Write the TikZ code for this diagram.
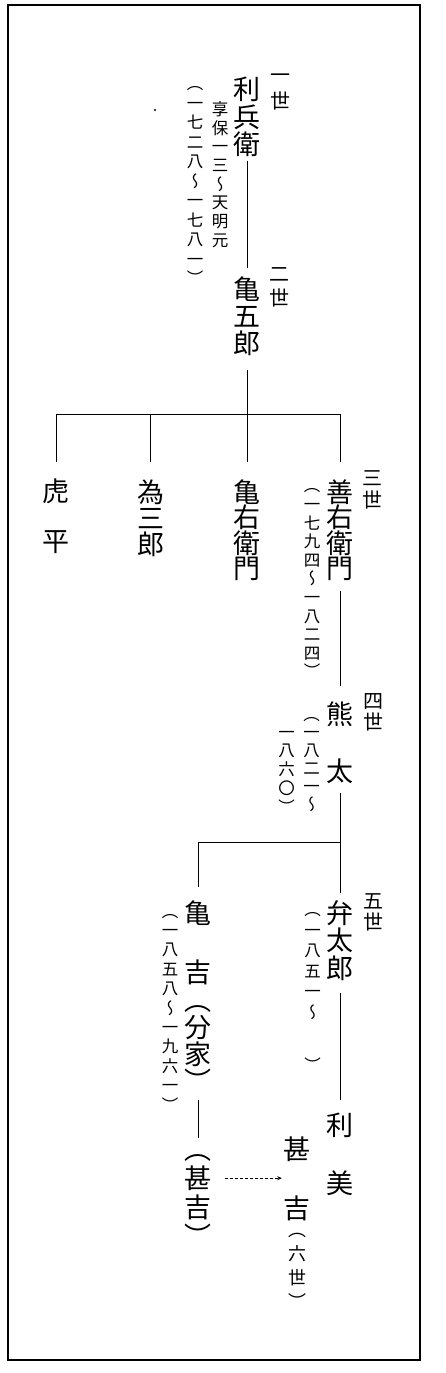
\documentclass[tikz,border=0pt]{standalone}
\usepackage{fontspec}
\usetikzlibrary{arrows.meta}
\newfontfamily\jp[RawFeature=+vert]{Noto Sans CJK JP}
\newcommand\vtstrut{\vrule width 0pt height .88em depth .12em\relax}
\newcommand\vtslot[2]{\vbox to #1{\vss\hbox to 30pt{\hss\vtstrut#2\hss}\vss}}
\newcommand\VV[1]{\vbox{\offinterlineskip #1}}
\ExplSyntaxOn
\NewDocumentCommand\VT{mm}{\vbox{\offinterlineskip\tl_map_inline:nn{#2}{\vtslot{#1}{##1}}}}
\ExplSyntaxOff
\tikzset{
  nm/.style={font=\fontsize{27}{27}\jp, inner sep=0pt, anchor=north},
  dt/.style={font=\fontsize{16.5}{16.5}\jp, inner sep=0pt, anchor=north},
  gn/.style={font=\fontsize{20}{20}\jp, inner sep=0pt, anchor=north},
  conn/.style={line width=0.8pt},
  dotarr/.style={line width=0.7pt, dash pattern=on 2.5pt off 2.5pt, -{Stealth[length=4.5pt,width=4pt]}},
  frame/.style={line width=1.6pt}
}
\begin{document}
\begin{tikzpicture}[x=1pt,y=-1pt]
\useasboundingbox (0,0) rectangle (445,1373);
\draw[frame] (8,5) rectangle (420,1360);
\fill (155,110) circle (1.1pt);
% generation labels
\node[gn] (g1) at (280,62) {\VT{26pt}{一世}};
\node[gn] (g2) at (279,261.5) {\VT{24pt}{二世}};
\node[gn] (g3) at (372,466.5) {\VT{22pt}{三世}};
\node[gn] (g4) at (373,690.5) {\VT{21pt}{四世}};
\node[gn] (g5) at (373,890.5) {\VT{21pt}{五世}};
% names
\node[nm] (rihei) at (247,75.75) {\VT{27.5pt}{利兵衛}};
\node[dt] (rd1) at (220,99.6) {\VT{18.7pt}{享保一三～天明元}};
\node[dt] (rd2) at (195,73.75) {\VT{19.5pt}{（一七二八～一七八一）}};
\node[nm] (kame5) at (247,276) {\VT{27pt}{亀五郎}};
\node[nm] (tora) at (56.5,466.5) {\VT{50pt}{虎平}};
\node[nm] (tame) at (150.5,479) {\VT{26pt}{為三郎}};
\node[nm] (kameemon) at (247,479.3) {\VT{25.3pt}{亀右衛門}};
\node[nm] (zen) at (340,479.3) {\VT{25.3pt}{善右衛門}};
\node[dt] (zd) at (312,476.1) {\VT{18.6pt}{（一七九四～一八二四）}};
\node[nm] (kuma) at (340,686) {\VT{57pt}{熊太}};
\node[dt] (kd1) at (311.5,705) {\VT{18pt}{（一八二一～}};
\node[dt] (kd2) at (286.5,722.4) {\VT{18.7pt}{一八六〇）}};
\node[nm] (ben) at (340,899.25) {\VT{27.5pt}{弁太郎}};
\node[dt] (bd) at (312.5,899.25) {\VV{\VT{20.5pt}{（一八五一～}\kern32.5pt\VT{20.5pt}{）}}};
\node[nm] (kamek) at (198,883.5) {\VV{\VT{59pt}{亀吉}\kern-15pt\VT{27pt}{（分家）}}};
\node[dt] (kkd) at (170,900.9) {\VT{19.4pt}{（一八五八～一九六一）}};
\node[nm] (toshimi) at (340,1096.5) {\VT{58pt}{利美}};
\node[nm] (jinp) at (198,1134.5) {\VT{29pt}{（甚吉）}};
\node[nm] (jin6) at (297,1119.5) {\VV{\VT{59pt}{甚吉}\kern-20.5pt{\fontsize{18}{18}\jp\VT{24pt}{（六世）}}}};
% connectors
\coordinate (j1) at (247,414.5);
\coordinate (j2) at (340,842);
\draw[conn, shorten <=2pt, shorten >=8pt] (rihei.south) -- (kame5.north);
\draw[conn, shorten <=13pt, shorten >=17.6pt] (kame5.south) -- (kameemon.north);
\draw[conn, shorten <=5pt, shorten >=17.6pt] (tora.north) -- (tora.north |- j1) -- (zen.north |- j1) -- (zen.north);
\draw[conn, shorten <=17pt] (tame.north) -- (tame.north |- j1);
\draw[conn, shorten <=10pt] (zen.south) -- (kuma.north);
\draw[conn, shorten <=-7pt, shorten >=6pt] (kuma.south) -- (ben.north);
\draw[conn, shorten >=-3.5pt] (j2) -- (j2 -| kamek.north) -- (kamek.north);
\draw[conn, shorten <=11pt, shorten >=-3.5pt] (ben.south) -- (toshimi.north);
\draw[conn, shorten <=5.5pt, shorten >=-3.5pt] (kamek.south) -- (jinp.north);
\coordinate (as) at ([yshift=14.5pt]jinp.east);
\draw[dotarr, shorten <=12pt] (as) -- (as -| jin6.west);
\end{tikzpicture}
\end{document}
